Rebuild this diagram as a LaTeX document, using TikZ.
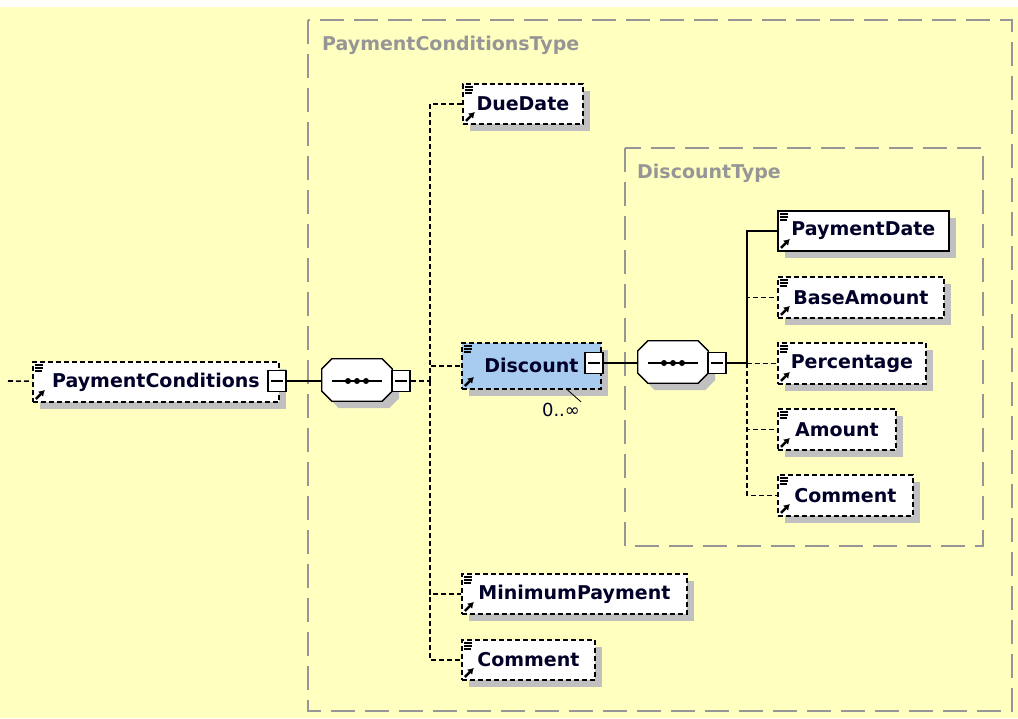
\documentclass[tikz,border=0pt]{standalone}
\usepackage{fontspec}
\setmainfont{DejaVu Sans}
\usetikzlibrary{arrows.meta}

\definecolor{bgyellow}{RGB}{255,255,192}
\definecolor{shadowgray}{RGB}{192,192,192}
\definecolor{typegray}{RGB}{150,150,150}
\definecolor{selblue}{RGB}{168,204,240}
\definecolor{textnavy}{RGB}{0,0,40}

\newcommand\elemfont{\fontsize{19}{22}\selectfont\bfseries}
% octagon outline of a compositor node
\newcommand\octagon[1]{([xshift=10pt]#1.north west) -- ([xshift=-10pt]#1.north east)
  -- ([yshift=-10pt]#1.north east) -- ([yshift=10pt]#1.south east)
  -- ([xshift=-10pt]#1.south east) -- ([xshift=10pt]#1.south west)
  -- ([yshift=10pt]#1.south west) -- ([yshift=-10pt]#1.north west) -- cycle}

\tikzset{
  elem/.style={draw, fill=white, line width=1.8pt, anchor=north west, inner sep=0pt,
    minimum height=40pt, text=textnavy, font=\elemfont,
    preaction={draw=none, fill=shadowgray, transform canvas={shift={(7pt,-7pt)}}},
    path picture={
      \draw[solid, line width=1.3pt, line cap=butt]
        ([xshift=2pt,yshift=-3pt]path picture bounding box.north west) -- ++(8pt,0pt)
        ([xshift=2pt,yshift=-6pt]path picture bounding box.north west) -- ++(8pt,0pt)
        ([xshift=2pt,yshift=-9pt]path picture bounding box.north west) -- ++(7pt,0pt);
      \draw[solid, line width=2.4pt, line cap=butt, -{Latex[length=6pt,width=7.5pt]}]
        ([xshift=3pt,yshift=3pt]path picture bounding box.south west) -- ++(9pt,9pt);
    }},
  opt/.style={dash pattern=on 5pt off 3pt},
  minus/.style={draw, fill=white, line width=1.4pt, minimum width=18pt, minimum height=21pt,
    inner sep=0pt,
    path picture={\draw[line width=1.3pt] ([xshift=3pt]path picture bounding box.west)
      -- ([xshift=-3pt]path picture bounding box.east);}},
  seq/.style={minimum width=70pt, minimum height=42pt, inner sep=0pt},
  seqshape/.style={fill=white, draw, line width=1.3pt,
    preaction={draw=none, fill=shadowgray, transform canvas={shift={(7pt,-7pt)}}}},
  link/.style={line width=1.6pt},
  typebox/.style={draw=typegray, line width=2pt, dash pattern=on 24pt off 10pt},
  typelabel/.style={anchor=west, text=typegray, font=\elemfont, inner sep=0pt}
}

\begin{document}
\begin{tikzpicture}[x=1pt, y=-1pt]
  \useasboundingbox (0,0) rectangle (1018,718);
  \fill[white] (0,0) rectangle (1018,7);
  \fill[bgyellow] (0,7) rectangle (1018,718);

  % type frames
  \draw[typebox] (308,20) rectangle (1012,711);
  \node[typelabel] (pctype) at (322,45) {PaymentConditionsType};
  \draw[typebox] (625,148) rectangle (983,546);
  \node[typelabel] (disctype) at (637,173) {DiscountType};

  % root element
  \coordinate (stub) at (8,381);
  \node[elem, opt, minimum width=246pt] (paycond) at (32,361) {PaymentConditions};
  \node[minus] (paycondm) at (277,381) {};

  % first sequence
  \node[seq] (seq1) at (357,380) {};
  \draw[seqshape] \octagon{seq1};
  \node[minus] (seq1m) at (401,381) {};
  \coordinate (trunk1) at (430,381);

  \node[elem, opt, minimum width=120pt] (duedate) at (462,83) {DueDate};
  \node[elem, opt, fill=selblue, minimum width=139pt, minimum height=46pt] (discount) at (461,342) {Discount};
  \node[minus] (discountm) at (594,363) {};
  \node[text=textnavy, font=\fontsize{18}{20}\selectfont, inner sep=1pt] (discmult) at (561,410) {0..∞};
  \node[elem, opt, minimum width=225pt] (minpay) at (461,573) {MinimumPayment};
  \node[elem, opt, minimum width=133pt] (comment1) at (461,639) {Comment};

  % second sequence
  \node[seq] (seq2) at (673,362) {};
  \draw[seqshape] \octagon{seq2};
  \node[minus] (seq2m) at (717,363) {};
  \coordinate (trunk2) at (747,363);

  \node[elem, minimum width=171pt] (paydate) at (777,210) {PaymentDate};
  \node[elem, opt, minimum width=166pt, minimum height=41pt] (baseamt) at (777,276) {BaseAmount};
  \node[elem, opt, minimum width=148pt, minimum height=41pt] (percent) at (777,342) {Percentage};
  \node[elem, opt, minimum width=118pt, minimum height=41pt] (amount) at (777,408) {Amount};
  \node[elem, opt, minimum width=135pt, minimum height=41pt] (comment2) at (777,474) {Comment};

  % sequence marks
  \foreach \s in {seq1,seq2} {
    \draw[line width=1.3pt] ([xshift=10pt,yshift=-1pt]\s.west) -- ([xshift=-10pt,yshift=-1pt]\s.east);
    \foreach \dx in {-9,0,9}
      \fill ([xshift=\dx pt,yshift=-1pt]\s.center) circle (3pt);
  }

  % connectors
  \draw[link, opt] (stub) -- (paycond);
  \draw[link] (paycondm) -- (seq1.west |- paycondm);
  \draw[link, opt] (seq1m) -- (trunk1);
  \draw[link, opt] (trunk1) |- (duedate.west);
  \draw[link, opt] (trunk1) |- (discount.west);
  \draw[link, opt] (trunk1) |- (minpay.west);
  \draw[link, opt] (trunk1) |- (comment1.west);
  \draw[line width=0.8pt] ([xshift=36pt]discount.south) -- (discmult.north east);

  \draw[link] (discountm) -- (seq2.west |- discountm);
  \draw[link] (seq2m) -- (trunk2) |- (paydate.west);
  \draw[link, opt] (trunk2) |- (baseamt.west);
  \draw[link, opt] (trunk2) |- (percent.west);
  \draw[link, opt] (trunk2) |- (amount.west);
  \draw[link, opt] (trunk2) |- (comment2.west);
\end{tikzpicture}
\end{document}
